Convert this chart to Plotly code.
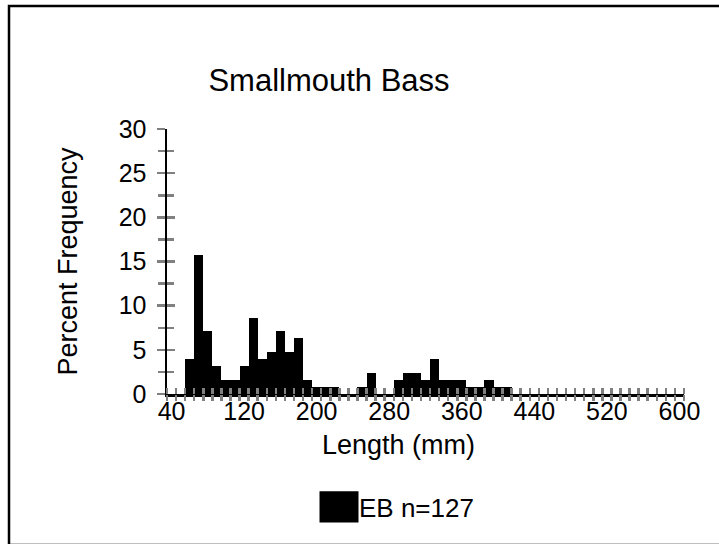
import plotly.graph_objects as go

# ---- data ----
lengths = [40, 50, 60, 70, 80, 90, 100, 110, 120, 130, 140, 150, 160, 170, 180, 190,
           200, 210, 220, 230, 240, 250, 260, 270, 280, 290, 300, 310, 320, 330, 340,
           350, 360, 370, 380, 390, 400, 410, 420, 430, 440, 450, 460, 470, 480, 490,
           500, 510, 520, 530, 540, 550, 560, 570, 580, 590, 600]
percent_eb = [0, 0, 3.94, 15.75, 7.09, 3.15, 1.57, 1.57, 3.15, 8.66, 3.94, 4.72, 7.09,
              4.72, 6.30, 1.57, 0.79, 0.79, 0.79, 0, 0, 0.79, 2.36, 0, 0, 1.57, 2.36,
              2.36, 1.57, 3.94, 1.57, 1.57, 1.57, 0.79, 0.79, 1.57, 0.79, 0.79,
              0, 0, 0, 0, 0, 0, 0, 0, 0, 0, 0, 0, 0, 0, 0, 0, 0, 0, 0]
x_tick_labels = [40, 120, 200, 280, 360, 440, 520, 600]
series_name = "EB n=127"
chart_title = "Smallmouth Bass"
x_title = "Length (mm)"
y_title = "Percent Frequency"

FONT = "Liberation Sans, Arial, sans-serif"
W, H = 719, 544
L, R, T, B = 167, 35, 129, 150
PW, PH = W - L - R, H - T - B
GRAY = "#808080"
TW = 2.5

fig = go.Figure()
fig.add_trace(go.Bar(
    x=lengths, y=percent_eb, name=series_name, width=10,
    marker=dict(color="black", line=dict(width=0)),
    showlegend=True,
))
# invisible companions so the overlay axes (cross-style tick marks) are drawn
fig.add_trace(go.Scatter(x=lengths, y=percent_eb, mode="markers",
                         marker=dict(opacity=0), hoverinfo="skip",
                         showlegend=False, xaxis="x2", yaxis="y2"))
fig.add_trace(go.Scatter(x=lengths, y=percent_eb, mode="markers",
                         marker=dict(opacity=0), hoverinfo="skip",
                         showlegend=False, xaxis="x3", yaxis="y"))

xr = [35, 605]
yr = [0, 30]

def x_tick_axis(side_ticks):
    return dict(
        range=xr, overlaying="x", showgrid=False, zeroline=False,
        showline=False, showticklabels=False, ticks="",
        tickmode="array", tickvals=x_tick_labels,
        minor=dict(ticks=side_ticks, tickmode="linear", tick0=35, dtick=10,
                   ticklen=6, tickwidth=TW, tickcolor=GRAY, showgrid=False),
    )

fig.update_layout(
    width=W, height=H,
    margin=dict(l=L, r=R, t=T, b=B, autoexpand=False),
    paper_bgcolor="white", plot_bgcolor="white",
    font=dict(family=FONT, color="black", size=25),
    bargap=0,
    hovermode=False,
    title=dict(text=chart_title, x=329 / W, xanchor="center",
               y=1 - 80 / H, yanchor="middle",
               font=dict(size=31, family=FONT, color="black")),
    xaxis=dict(
        range=xr, showgrid=False, zeroline=False,
        showline=True, linecolor="black", linewidth=3,
        tickmode="array", tickvals=x_tick_labels,
        ticktext=[str(v) for v in x_tick_labels],
        ticks="", ticklabelstandoff=-7,
        tickfont=dict(size=25),
    ),
    xaxis2=x_tick_axis("outside"),
    xaxis3=x_tick_axis("inside"),
    yaxis=dict(
        range=yr, showgrid=False, zeroline=False,
        showline=True, linecolor="black", linewidth=2.5,
        tickmode="linear", tick0=0, dtick=5,
        ticks="outside", ticklen=8, tickwidth=TW, tickcolor=GRAY,
        ticklabelstandoff=5,
        tickfont=dict(size=25),
        minor=dict(ticks="outside", tickmode="linear", tick0=0, dtick=2.5,
                   ticklen=7, tickwidth=TW, tickcolor=GRAY, showgrid=False),
        title=dict(text=y_title, font=dict(size=27), standoff=33),
    ),
    yaxis2=dict(
        range=yr, overlaying="y", showgrid=False, zeroline=False,
        showline=False, showticklabels=False,
        tickmode="linear", tick0=0, dtick=5,
        ticks="inside", ticklen=8, tickwidth=TW, tickcolor=GRAY,
        minor=dict(ticks="inside", tickmode="linear", tick0=0, dtick=2.5,
                   ticklen=7, tickwidth=TW, tickcolor=GRAY, showgrid=False),
    ),
    legend=dict(
        x=(319 - L) / PW, xanchor="left",
        y=(T + PH - 507) / PH, yanchor="middle",
        font=dict(size=26), bgcolor="rgba(0,0,0,0)", borderwidth=0,
    ),
    annotations=[dict(
        text=x_title, xref="paper", yref="paper",
        x=(398 - L) / PW, y=(T + PH - 445) / PH,
        xanchor="center", yanchor="middle", showarrow=False,
        font=dict(size=27, family=FONT, color="black"),
    )],
    shapes=[dict(
        type="rect", xref="paper", yref="paper", layer="above",
        x0=(9 - L) / PW, x1=(722 - L) / PW,
        y0=(T + PH - 545) / PH, y1=(T + PH - 6) / PH,
        line=dict(color="black", width=2.5), fillcolor="rgba(0,0,0,0)",
    )],
)

post = """
document.body.style.margin = '0';
document.body.style.overflow = 'hidden';
var gd = document.getElementById('{plot_id}');
function fixLegend(){
  document.querySelectorAll('.legendpoints path').forEach(function(e){
    if (e.dataset.orig === undefined) { e.dataset.orig = e.getAttribute('transform') || ''; }
    e.setAttribute('transform', e.dataset.orig + ' scale(3.25,2.6)');
  });
}
fixLegend();
gd.on('plotly_afterplot', fixLegend);
setTimeout(fixLegend, 100);
"""

fig.write_html("out.html", post_script=post,
               config={"displayModeBar": False, "staticPlot": True})
